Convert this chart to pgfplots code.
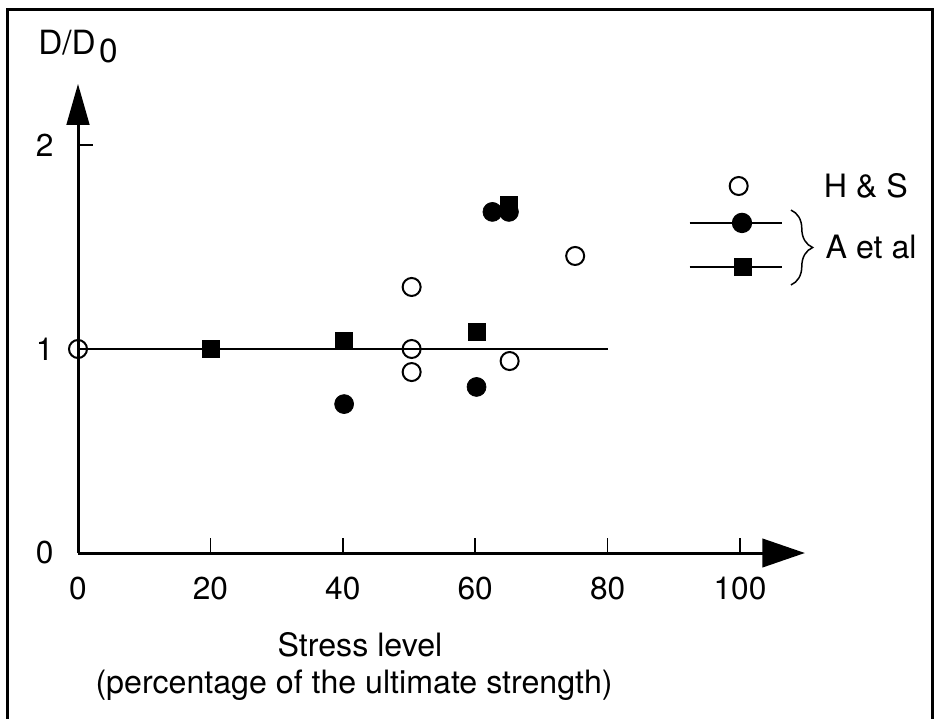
\documentclass[border=0pt]{standalone}
\usepackage{pgfplots}
\pgfplotsset{compat=1.18}
\usepackage{fontspec}
\setmainfont{TeX Gyre Heros}
\usetikzlibrary{arrows.meta,decorations.pathreplacing}

\begin{document}
\begin{tikzpicture}[font=\fontsize{19.3}{23}\selectfont]
\useasboundingbox (-46.8pt,-99pt) rectangle (514.2pt,331.8pt);
\draw[line width=1.8pt] (-42pt,-110pt) -- (-42pt,325.8pt) -- (512.4pt,325.8pt) -- (512.4pt,-110pt);
\begin{axis}[
  at={(0pt,0pt)}, anchor=south west,
  x=3.972pt, y=122.4pt,
  xmin=0, xmax=109.8, ymin=0, ymax=2.30,
  axis lines=left,
  clip=false,
  axis line style={line width=1.8pt},
  x axis line style={-{Triangle[length=25.5pt,width=17pt]}},
  y axis line style={-{Triangle[length=24.6pt,width=13.5pt]}},
  xtick={0,20,40,60,80,100},
  ytick={0,1,2},
  tick align=inside,
  major tick length=9pt,
  tick style={line width=0.9pt, black},
  /pgf/number format/assume math mode=true,
  tick label style={font=\fontsize{19}{22}\selectfont},
  xticklabel style={inner sep=0pt, yshift=-14.5pt},
  yticklabel style={inner sep=0pt, xshift=-14.5pt},
]
% reference line
\addplot[black, line width=0.9pt] coordinates {(0,1) (80,1)};
% H & S (open circles)
\addplot[only marks, mark=o, mark size=5.4pt, mark options={line width=1.2pt, black}] coordinates {
(0,1.0) (50.4,1.304) (50.4,1.0) (50.4,0.887) (65.2,0.941) (75.1,1.456)};
% A et al, squares
\addplot[only marks, mark=square*, mark size=5.1pt, mark options={black, fill=black}] coordinates {
(20.1,1.0) (40.2,1.039) (60.2,1.083) (65.1,1.705)};
% A et al, circles
\addplot[only marks, mark=*, mark size=5.7pt, mark options={black, fill=black}] coordinates {
(40.2,0.730) (60.2,0.814) (62.6,1.672) (65.1,1.672)};
% legend samples
\addplot[only marks, mark=o, mark size=5.4pt, mark options={line width=1.2pt, black}] coordinates {(99.8,1.799)};
\addplot[black, line width=0.8pt, mark=*, mark size=5.7pt, mark indices={2}, mark options={fill=black}] coordinates {(92.4,1.618) (100.3,1.618) (106.3,1.618)};
\addplot[black, line width=0.8pt, mark=square*, mark size=5.1pt, mark indices={2}, mark options={fill=black}] coordinates {(92.4,1.402) (100.5,1.402) (106.3,1.402)};
\draw[decorate, decoration={brace, amplitude=13pt}, line width=0.9pt] (axis cs:107.7,1.681) -- (axis cs:107.7,1.314);
\node[anchor=base west, inner sep=0pt] at (axis cs:112.6,1.745) {H \& S};
\node[anchor=base west, inner sep=0pt] at (axis cs:112.9,1.446) {A et al};
% axis titles
\node[anchor=base west, inner sep=0pt, font=\fontsize{20}{24}\selectfont] at (axis cs:-6.04,2.446) {D/D\hspace{2pt}\raisebox{-5pt}{0}};
\node[anchor=base, inner sep=0pt] at (axis cs:42.6,-0.505) {Stress level};
\node[anchor=base, inner sep=0pt] at (axis cs:41.7,-0.691) {(percentage of the ultimate strength)};
\end{axis}
\end{tikzpicture}
\end{document}
